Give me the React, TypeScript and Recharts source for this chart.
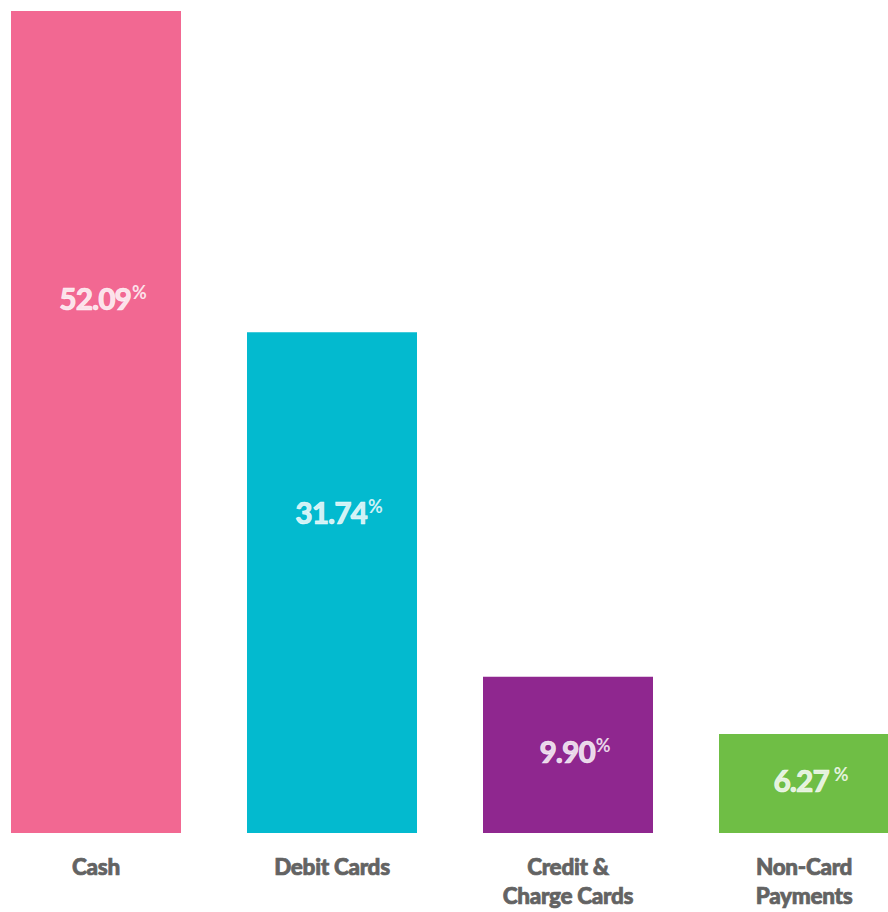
import { BarChart, Bar, XAxis, YAxis, Cell, LabelList } from 'recharts';

const categories = ['Cash', 'Debit Cards', 'Credit & Charge Cards', 'Non-Card Payments'];
const tickLines = [['Cash'], ['Debit Cards'], ['Credit &', 'Charge Cards'], ['Non-Card', 'Payments']];
const shares = [52.09, 31.74, 9.9, 6.27];
const valueLabels = ['52.09', '31.74', '9.90', '6.27'];
const colors = ['#f26892', '#03bacf', '#8f278f', '#6fbe45'];

const data = categories.map((name, i) => ({ name, share: shares[i], label: valueLabels[i] }));

const FONT = 'Lato, "Open Sans", sans-serif';

function CategoryTick({ x, y, payload }: any) {
  const lines = tickLines[payload.index] ?? [payload.value];
  return (
    <text x={x} y={y + 34} textAnchor="middle" fill="#636363" stroke="#636363" strokeWidth={0.7}
      fontFamily={FONT} fontWeight={900} fontSize={22.5} letterSpacing={-0.3}>
      {lines.map((l, i) => (
        <tspan key={i} x={x} dy={i === 0 ? 0 : 29}>
          {l}
        </tspan>
      ))}
    </text>
  );
}

function ValueLabel({ x, y, width, height, index }: any) {
  const cx = x + width / 2 + 7;
  // big bars keep their label in the upper third, short ones are centred
  const off = height > 300 ? height * 0.335 + 14 : height / 2 - 2;
  const cy = y + off;
  const isLast = index === valueLabels.length - 1;
  return (
    <text x={cx} y={cy + 10} textAnchor="middle" fill="#ffffff" fillOpacity={0.82} stroke="#ffffff" strokeOpacity={0.82} strokeWidth={0.6}
      fontFamily={FONT} fontWeight={900} fontSize={30} letterSpacing={-1}>
      {valueLabels[index]}
      <tspan dx={isLast ? 5 : 1} dy={-11} fontSize={18} fontWeight={700} strokeWidth={0} letterSpacing={0}>
        %
      </tspan>
    </text>
  );
}

export default function App() {
  return (
    <div style={{ position: 'absolute', left: 0, top: 0, width: 888, height: 912, overflow: 'hidden', background: '#fff' }}>
      <div style={{ marginLeft: -22 }}>
        <BarChart width={944} height={912} data={data} margin={{ top: 11, right: 0, bottom: 0, left: 0 }} barSize={170}>
          <XAxis dataKey="name" axisLine={false} tickLine={false} height={79} interval={0} tick={<CategoryTick />} />
          <YAxis hide domain={[0, 52.09]} />
          <Bar dataKey="share" isAnimationActive={false}>
            {data.map((d, i) => (
              <Cell key={d.name} fill={colors[i]} />
            ))}
            <LabelList dataKey="label" content={<ValueLabel />} />
          </Bar>
        </BarChart>
      </div>
    </div>
  );
}
